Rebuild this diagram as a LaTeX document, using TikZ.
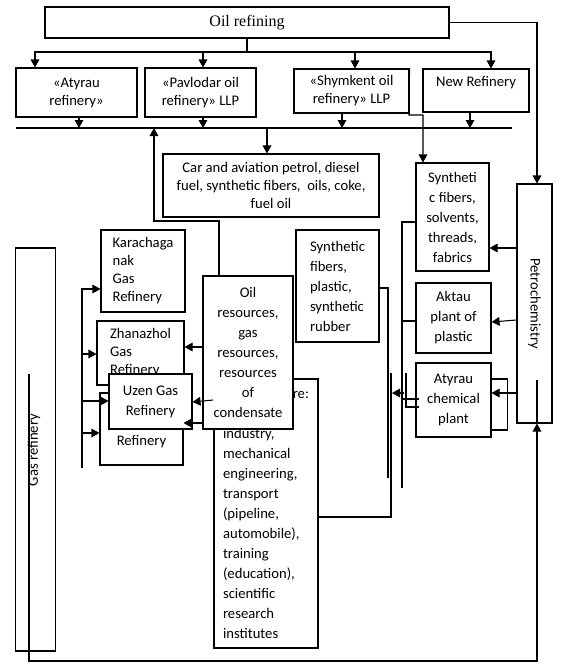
\documentclass[tikz,border=0pt]{standalone}
\usepackage{fontspec}
\setmainfont{Carlito}
\newfontfamily\timesfont{Liberation Serif}
\usetikzlibrary{arrows.meta, positioning}
\tikzset{
    box/.style={draw, fill=white, rectangle, inner sep=1pt, align=center, font=\fontsize{11}{13.5}\selectfont},
    wide/.style={font=\fontsize{11}{15}\selectfont},
    wh/.style 2 args={minimum width=#1*0.75pt, minimum height=#2*0.75pt},
    arr/.style={-{Triangle[length=6pt,width=6.5pt]}},
    rot/.style={font=\fontsize{11}{13.5}\selectfont, inner sep=0pt}
}

\begin{document}
\begin{tikzpicture}[x=0.75pt, y=-0.75pt, line width=0.8pt]
  \useasboundingbox (0,0) rectangle (564,671);

  \node[box, wh={404}{31}, font=\timesfont\fontsize{12}{14}\selectfont] (oil) at (247,22.5) {Oil refining};
  \node[box, wh={121}{49}] (atr) at (76.5,92.5) {«Atyrau\\refinery»};
  \node[box, wh={111}{49}] (pav) at (200.5,92.5) {«Pavlodar oil\\refinery» LLP};
  \node[box, wh={115}{44}] (shy) at (351.5,91) {«Shymkent oil\\refinery» LLP};
  \node[box, wh={106}{43}] (newr) at (476,90.5) {New Refinery\\\mbox{}};

  \foreach \n/\x in {atr/35, pav/203, shy/355, newr/491}
    \draw[arr] (oil.south) |- (\x,52) -- (\n.north -| \x,0);

  \coordinate (cl) at (16,128);
  \coordinate (cr) at (512,128);
  \draw (cl) -- (cr);
  \foreach \n/\x in {atr/79, pav/203, shy/342, newr/470}
    \draw[arr] (\n.south -| \x,0) -- (cl -| \x,0);

  \node[box, wh={216}{63}] (car) at (271,185.5) {Car and aviation petrol, diesel\\fuel, synthetic fibers,\ \ oils, coke,\\fuel oil};
  \draw[arr] (cl -| 267,0) -- (car.north -| 267,0);

  \node[box, wide, wh={73}{108}] (synf) at (452.5,217) {Syntheti\\c fibers,\\solvents,\\threads,\\fabrics};
  \node[box, wh={35}{239}] (petro) at (534.5,303.5) {};
  \node[rot, rotate=-90] (petrot) at (petro.center) {Petrochemistry};
  \node[box, wide, wh={75}{70}] (akt) at (453.5,318) {Aktau\\plant of\\plastic};
  \node[box, wide, wh={75}{74}] (achem) at (453.5,400) {Atyrau\\chemical\\plant};
  \node[box, wide, wh={83}{112}, align=left] (synr) at (337.5,286) {Synthetic\\fibers,\\plastic,\\synthetic\\rubber};

  \draw[arr] (shy.north east) -- (409,115) -| (synf.north -| 423,0);
  \draw[arr] (oil.east) -| (petro.north -| 537,0);
  \draw[arr] (petro.west |- 0,248) -- (synf.east |- 0,248);
  \draw[arr] (petro.west |- 0,320) -- (akt.east |- 0,322);
  \draw[arr] (petro.west |- 0,393) -- (achem.east |- 0,393);
  \draw (achem.east |- 0,379) -- ++(16,0) |- (achem.east |- 0,430);

  \draw (synf.west |- 0,222) -| (402,488);
  \draw (akt.west |- 0,321) -- (402,321);
  \draw (synr.east |- 0,288) -| (388,478);
  \draw[arr] (404,393) -- (392,393);
  \draw (402,399) -- (419,399);
  \draw (406,373) |- (419,407);

  \node[box, wide, wh={104}{269}, align=left] (infra) at (266,513.5) {Infrastructure:\\\mbox{}\\industry,\\mechanical\\engineering,\\transport\\(pipeline,\\automobile),\\training\\(education),\\scientific\\research\\institutes};
  \draw (infra.east |- 0,517) -| (391,373);

  \node[box, wide, wh={90}{153}] (res) at (248,352.5) {Oil\\resources,\\gas\\resources,\\resources\\of\\condensate};
  \draw[arr] (res.north -| 219,0) |- (154,221) -- (cl -| 154,0);

  \node[box, wh={40}{403}] (gas) at (35.5,449.5) {};
  \node[rot, rotate=90] (gasrot) at (34,450) {Gas refinery};
  \draw[arr] (29,374) -- (29,661) -| (petro.south -| 537,0);
  \draw (petro.south -| 537,0) -- (537,380);

  \node[box, wh={84}{82}, align=left] (kar) at (143,271) {Karachaga\\nak\\Gas\\Refinery};
  \node[box, wh={87}{64}, align=left] (zha) at (140.5,353) {Zhanazhol\\Gas\\Refinery};
  \node[box, wh={83}{72}] (ten) at (141.5,429) {\mbox{}\\Gas\\Refinery};
  \node[box, wide, wh={83}{55}] (uze) at (150.5,401.5) {Uzen Gas\\Refinery};

  \coordinate (lt) at (82,288);
  \coordinate (lb) at (82,468);
  \draw (lt) -- (lb);
  \draw[arr] (lt |- 0,289) -- (kar.west |- 0,289);
  \draw[arr] (lt |- 0,354) -- (zha.west |- 0,354);
  \draw[arr] (lt |- 0,401) -- (uze.west |- 0,401);
  \draw[arr] (lt |- 0,433) -- (ten.west |- 0,433);

  \draw[arr] (res.west |- 0,347) -- (zha.east |- 0,347);
  \draw[arr] (213,400) -- (uze.east |- 0,402);
  \draw[arr] (res.west |- 0,423) -- (ten.east |- 0,423);
\end{tikzpicture}
\end{document}
